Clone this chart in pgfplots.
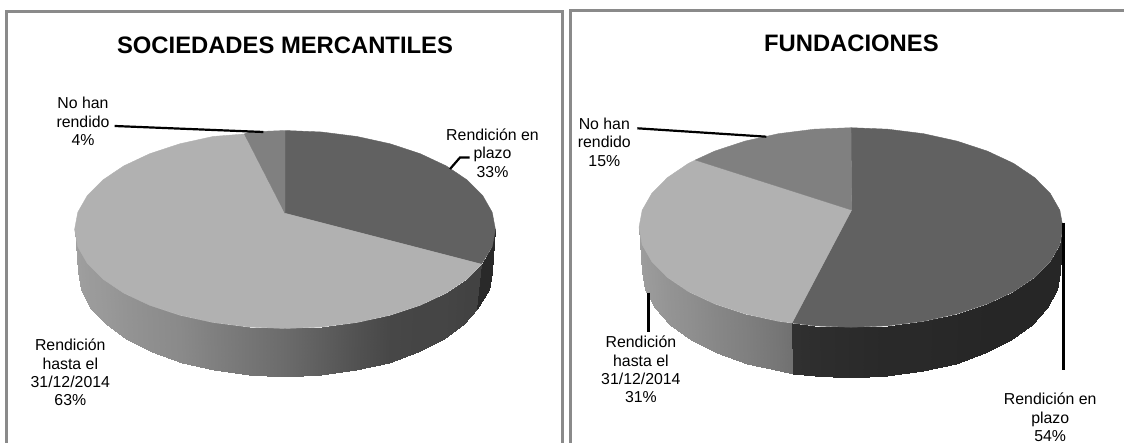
\documentclass[border=0pt]{standalone}
\usepackage{fontspec}
\setmainfont{Liberation Sans}
\usepackage{pgfplots}
\pgfplotsset{compat=1.18}
\definecolor{pieDark}{HTML}{616161}
\definecolor{pieLight}{HTML}{B1B1B1}
\definecolor{pieMid}{HTML}{808080}
\definecolor{frameGray}{HTML}{8A8A8A}
\pgfplotsset{
  pie panel/.style={
    scale only axis, hide axis, clip=false,
    anchor=south west,
    ymin=0, ymax=443, y dir=reverse,
    height=443pt,
    colormap={greys}{gray(0cm)=(0); gray(1cm)=(1)},
    point meta min=0, point meta max=1,
  },
  wall/.style={surf, shader=interp, mesh/rows=2, point meta=explicit},
  slice/.style={draw=#1, line width=0.4pt, line join=round, fill=#1},
  leader/.style={black, line width=#1, sharp plot, no marks},
  frameline/.style={frameGray, line width=3pt, sharp plot, no marks, line join=miter},
}
\tikzset{
  lab/.style={align=center, inner sep=0pt, font=\fontsize{15.85}{18.4}\selectfont},
  ttl/.style={inner sep=0pt, font=\fontsize{23.8}{28}\selectfont\bfseries},
}
\begin{document}
\begin{tikzpicture}[x=1pt,y=1pt]
\useasboundingbox (0,0) rectangle (1124,443);

% left chart
\begin{axis}[pie panel, at={(0,0)}, width=566pt, xmin=0, xmax=566]
\addplot[frameline] coordinates {(6.5,443) (6.5,12) (562,12) (562,443)};
% wall of the 63% slice
\addplot[wall] table[meta=c] {
x y c
74.6 229.5 .63
77.8 246.7 .62
87.3 263.4 .61
102.8 279 .60
123.8 293.1 .58
149.8 305.3 .56
179.8 315.2 .54
213 322.5 .50
248.5 327 .46
285 328.5 .42
321.5 327 .37
357 322.5 .32
390.2 315.2 .28
420.2 305.3 .27
446.2 293.1 .27
467.2 279 .26
481.5 264.2 .26
78 271.7 .63
81.1 289.9 .62
90.5 307.6 .61
105.7 324.2 .60
126.4 339.2 .58
151.9 352.1 .56
181.5 362.6 .54
214.2 370.4 .50
249.1 375.1 .46
285 376.7 .42
320.9 375.1 .37
355.8 370.4 .32
388.5 362.6 .28
418.1 352.1 .27
443.6 339.2 .27
464.3 324.2 .26
477 309 .26
};
% wall of the 33% slice
\addplot[wall] table[meta=c] {
x y c
481.5 264.2 .16
492.2 246.7 .16
495.4 229.5 .16
477 309 .16
488.9 289.9 .16
492 271.7 .16
};
% 33%
\addplot[slice=pieDark] coordinates {(285,213.3) (285,130.5) (321.5,132) (357,136.5) (390.2,143.8) (420.2,153.7) (446.2,165.9) (467.2,180) (482.7,195.6) (492.2,212.3) (495.4,229.5) (492.2,246.7) (481.5,264.2)} --cycle;
% 63%
\addplot[slice=pieLight] coordinates {(285,213.3) (481.5,264.2) (467.2,279) (446.2,293.1) (420.2,305.3) (390.2,315.2) (357,322.5) (321.5,327) (285,328.5) (248.5,327) (213,322.5) (179.8,315.2) (149.8,305.3) (123.8,293.1) (102.8,279) (87.3,263.4) (77.8,246.7) (74.6,229.5) (77.8,212.3) (87.3,195.6) (102.8,180) (123.8,165.9) (149.8,153.7) (179.8,143.8) (213,136.5) (244.4,134)} --cycle;
% 4%
\addplot[slice=pieMid] coordinates {(285,213.3) (244.4,134) (248.5,132) (285,130.5)} --cycle;
% leader lines
\addplot[leader=2.2pt] coordinates {(114.7,126) (263.4,132)};
\addplot[leader=2.2pt] coordinates {(469.5,157.5) (460,157.5) (450,169)};
\node[ttl] at (axis cs:285,45.7) {SOCIEDADES MERCANTILES};
\node[lab] at (axis cs:83,121.7) {No han\\rendido\\4\%};
\node[lab] at (axis cs:492.5,153) {Rendición en\\plazo\\33\%};
\node[lab] at (axis cs:70.3,372.5) {Rendición\\hasta el\\31/12/2014\\63\%};
\end{axis}

% right chart
\begin{axis}[pie panel, at={(566pt,0)}, width=558pt, xmin=566, xmax=1124]
\addplot[frameline] coordinates {(570,443) (570,11) (1130,11)};
% wall of the 31% slice
\addplot[wall] table[meta=c] {
x y c
639 227.5 .62
642.2 244.8 .61
651.8 261.6 .60
667.4 277.4 .58
688.6 291.7 .56
714.7 303.9 .53
745 313.9 .50
778.5 321.3 .46
792 323 .44
642 272 .62
645.2 290.4 .61
654.6 308.2 .60
670 324.9 .58
690.9 339.9 .56
716.7 353 .53
746.5 363.5 .50
779.5 371.3 .46
793 373.5 .44
};
% wall of the 54% slice
\addplot[wall] table[meta=c] {
x y c
792 323 .19
814.2 325.8 .18
851 327.3 .17
887.8 325.8 .16
923.5 321.3 .16
957 313.9 .155
987.3 303.9 .15
1013.4 291.7 .15
1034.6 277.4 .15
1050.2 261.6 .15
1059.8 244.8 .15
1063 227.5 .15
793 373.5 .19
814.7 376.1 .18
851 377.7 .17
887.3 376.1 .16
922.5 371.3 .16
955.5 363.5 .155
985.3 353 .15
1011.1 339.9 .15
1032 324.9 .15
1047.4 308.2 .15
1056.8 290.4 .15
1060 272 .15
};
% 54%
\addplot[slice=pieDark] coordinates {(851.6,210) (851,127.7) (887.8,129.2) (923.5,133.7) (957,141.1) (987.3,151.1) (1013.4,163.3) (1034.6,177.6) (1050.2,193.4) (1059.8,210.2) (1063,227.5) (1059.8,244.8) (1050.2,261.6) (1034.6,277.4) (1013.4,291.7) (987.3,303.9) (957,313.9) (923.5,321.3) (887.8,325.8) (851,327.3) (814.2,325.8) (792,323)} --cycle;
% 31%
\addplot[slice=pieLight] coordinates {(851.6,210) (792,323) (778.5,321.3) (745,313.9) (714.7,303.9) (688.6,291.7) (667.4,277.4) (651.8,261.6) (642.2,244.8) (639,227.5) (642.2,210.2) (651.8,193.4) (667.4,177.6) (688.6,163.3) (695.3,160)} --cycle;
% 15%
\addplot[slice=pieMid] coordinates {(851.6,210) (695.3,160) (714.7,151.1) (745,141.1) (778.5,133.7) (814.2,129.2) (851,127.7)} --cycle;
% leader lines
\addplot[leader=2.2pt] coordinates {(637.3,128.3) (766.3,136.7)};
\addplot[leader=2.6pt] coordinates {(648.4,292.7) (648.4,331.7)};
\addplot[leader=2.6pt] coordinates {(1063.3,222.7) (1063.3,370)};
\node[ttl] at (axis cs:851.4,43.3) {FUNDACIONES};
\node[lab] at (axis cs:604.3,142.3) {No han\\rendido\\15\%};
\node[lab] at (axis cs:640.9,369.5) {Rendición\\hasta el\\31/12/2014\\31\%};
\node[lab] at (axis cs:1050.2,417.3) {Rendición en\\plazo\\54\%};
\end{axis}
\end{tikzpicture}
\end{document}
